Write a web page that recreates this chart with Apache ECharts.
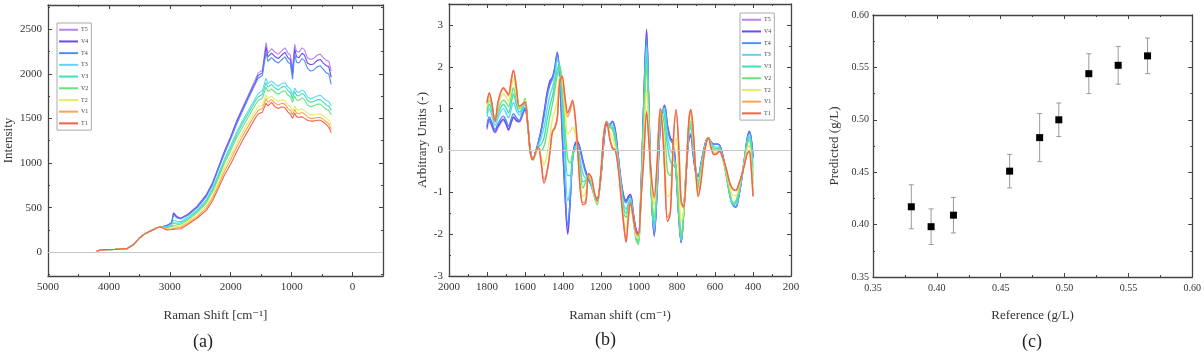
<!DOCTYPE html>
<html lang="en">
<head>
<meta charset="UTF-8">
<title>Raman spectra / prediction</title>
<script src="https://cdn.jsdelivr.net/npm/echarts@6/dist/echarts.min.js"></script>
<style>
    * { margin: 0; padding: 0; }
    html, body { width: 1204px; height: 361px; background: #fff; overflow: hidden; }
    #main { width: 1204px; height: 361px; }
</style>
</head>
<body>
<div id="main"></div>
<script type="text/javascript">
    var names = ['T5', 'V4', 'T4', 'T3', 'V3', 'V2', 'T2', 'V1', 'T1'];
    var colors = ['#b684f2', '#6b4af0', '#4d8ff5', '#5fd6f5', '#3fe0b8', '#6ce27a', '#e3ee62', '#f9a552', '#f2634f'];

    // (a) raw spectra, Raman shift [cm-1]
    var aX = [4200, 4100, 3900, 3700, 3600, 3500, 3400, 3300, 3200, 3150,
        3050, 2970, 2940, 2880, 2820, 2700, 2550, 2400, 2300, 2200,
        2100, 2000, 1900, 1800, 1700, 1600, 1550, 1480, 1420, 1390,
        1330, 1270, 1220, 1160, 1110, 1060, 1020, 985, 950, 920,
        880, 830, 790, 740, 690, 640, 580, 530, 480, 430,
        390, 350];
    var aT5 = [15, 30, 33, 42, 85, 160, 212, 245, 278, 284, 300, 335, 445, 400, 385, 430, 520, 650, 780, 960, 1140, 1300, 1480, 1630, 1780, 1930, 2010, 2040, 2350, 2230, 2280, 2240, 2220, 2260, 2290, 2230, 2210, 2050, 2330, 2250, 2240, 2290, 2270, 2180, 2160, 2170, 2210, 2220, 2180, 2150, 2140, 2030];
    var aV4 = [15, 30, 33, 42, 85, 160, 212, 245, 278, 284, 300, 330, 440, 395, 380, 425, 510, 640, 770, 950, 1130, 1290, 1465, 1610, 1760, 1900, 1980, 2010, 2300, 2190, 2230, 2190, 2170, 2210, 2240, 2180, 2160, 1990, 2280, 2190, 2180, 2230, 2210, 2120, 2100, 2110, 2150, 2160, 2120, 2090, 2080, 1960];
    var aT4 = [15, 30, 33, 42, 85, 160, 212, 245, 278, 284, 295, 325, 420, 385, 375, 415, 500, 625, 755, 935, 1110, 1270, 1440, 1590, 1740, 1880, 1950, 1980, 2240, 2140, 2180, 2140, 2120, 2160, 2190, 2130, 2110, 1940, 2220, 2130, 2120, 2170, 2150, 2060, 2030, 2040, 2080, 2090, 2050, 2010, 2000, 1880];
    var aT3 = [15, 30, 33, 42, 85, 160, 212, 245, 278, 284, 285, 305, 360, 345, 345, 395, 475, 590, 715, 880, 1050, 1200, 1350, 1480, 1600, 1720, 1780, 1810, 1950, 1890, 1920, 1880, 1860, 1890, 1900, 1850, 1830, 1760, 1840, 1800, 1790, 1820, 1800, 1740, 1720, 1730, 1750, 1760, 1730, 1700, 1690, 1640];
    var aV3 = [15, 30, 33, 42, 85, 160, 212, 245, 278, 284, 280, 298, 330, 325, 330, 380, 460, 575, 700, 860, 1030, 1170, 1320, 1450, 1570, 1690, 1740, 1770, 1900, 1850, 1880, 1840, 1820, 1850, 1860, 1810, 1790, 1720, 1800, 1760, 1750, 1780, 1760, 1700, 1680, 1690, 1710, 1710, 1680, 1650, 1640, 1590];
    var aV2 = [15, 30, 33, 42, 85, 160, 212, 245, 278, 284, 275, 290, 310, 310, 315, 365, 445, 555, 675, 835, 1000, 1140, 1290, 1410, 1530, 1650, 1700, 1725, 1850, 1800, 1830, 1790, 1770, 1800, 1810, 1760, 1740, 1680, 1750, 1710, 1700, 1730, 1710, 1650, 1630, 1640, 1660, 1660, 1630, 1600, 1590, 1540];
    var aT2 = [15, 30, 33, 42, 85, 160, 212, 245, 278, 284, 265, 275, 285, 290, 295, 345, 420, 520, 635, 790, 950, 1080, 1220, 1350, 1470, 1580, 1630, 1650, 1760, 1720, 1750, 1710, 1690, 1710, 1700, 1650, 1630, 1580, 1640, 1600, 1590, 1610, 1590, 1560, 1540, 1540, 1550, 1550, 1530, 1500, 1480, 1430];
    var aV1 = [15, 30, 33, 42, 85, 160, 212, 245, 278, 284, 258, 265, 272, 275, 280, 330, 400, 495, 605, 755, 910, 1040, 1180, 1310, 1430, 1540, 1590, 1610, 1720, 1680, 1710, 1670, 1650, 1670, 1660, 1610, 1590, 1540, 1600, 1560, 1550, 1570, 1550, 1520, 1500, 1500, 1510, 1510, 1490, 1460, 1440, 1380];
    var aT1 = [15, 30, 33, 42, 85, 160, 212, 245, 278, 284, 250, 255, 260, 262, 265, 315, 385, 470, 575, 720, 870, 990, 1130, 1260, 1380, 1500, 1550, 1570, 1670, 1640, 1680, 1630, 1610, 1630, 1620, 1570, 1550, 1500, 1560, 1520, 1510, 1520, 1500, 1480, 1470, 1470, 1480, 1480, 1460, 1430, 1400, 1340];

    // (b) preprocessed spectra, arbitrary units
    var bX = [1800, 1788, 1775, 1758, 1740, 1714, 1700, 1687, 1672, 1661,
        1645, 1630, 1615, 1600, 1585, 1572, 1558, 1545, 1530, 1515,
        1500, 1485, 1470, 1456, 1443, 1430, 1418, 1405, 1390, 1375,
        1362, 1350, 1338, 1325, 1310, 1295, 1280, 1265, 1250, 1235,
        1220, 1200, 1185, 1170, 1155, 1140, 1125, 1110, 1095, 1080,
        1068, 1056, 1045, 1030, 1015, 1003, 990, 975, 960, 948,
        935, 920, 905, 888, 875, 865, 850, 835, 820, 805,
        790, 778, 765, 750, 738, 727, 715, 700, 688, 675,
        660, 645, 635, 620, 605, 590, 578, 560, 540, 520,
        505, 490, 475, 460, 445, 432, 420, 410, 400];
    var bT5 = [0.5, 0.7, 0.58, 0.42, 0.56, 0.72, 0.62, 0.48, 0.66, 0.78,
        0.7, 0.68, 0.82, 0.98, 0.58, 0.0, -0.22, -0.06, 0.18, 0.48,
        0.88, 1.3, 1.6, 1.72, 1.95, 2.3, 1.75, 0.45, -1.0, -1.95,
        -1.15, -0.2, 0.12, 0.2, 0.05, -0.25, -0.5, -0.68, -0.85, -1.05,
        -1.15, -0.6, 0.2, 0.6, 0.6, 0.68, 0.48, -0.1, -0.7, -1.1,
        -1.2, -1.1, -1.05, -1.5, -1.9, -2.0, -1.0, 1.15, 2.85, 1.0,
        -1.0, -2.0, -1.0, 0.6, 0.95, 1.05, 0.6, 0.3, 0.2, -0.5,
        -1.6, -2.18, -1.5, -0.4, 0.25, 0.35, -0.1, -0.55, -0.62, -0.35,
        0.0, 0.25, 0.3, 0.2, 0.15, 0.15, 0.14, -0.1, -0.6, -1.1,
        -1.3, -1.35, -1.1, -0.7, -0.2, 0.25, 0.45, 0.3, -0.15];
    var bV4 = [0.55, 0.75, 0.62, 0.45, 0.6, 0.75, 0.65, 0.5, 0.68, 0.8,
        0.72, 0.7, 0.85, 1.0, 0.6, 0.0, -0.22, -0.05, 0.2, 0.5,
        0.9, 1.35, 1.65, 1.75, 2.0, 2.35, 1.8, 0.5, -1.0, -2.0,
        -1.2, -0.2, 0.15, 0.22, 0.05, -0.25, -0.5, -0.7, -0.85, -1.05,
        -1.15, -0.6, 0.2, 0.62, 0.62, 0.7, 0.5, -0.1, -0.7, -1.1,
        -1.2, -1.1, -1.05, -1.5, -1.9, -2.0, -1.0, 1.2, 2.9, 1.0,
        -1.0, -2.05, -1.0, 0.6, 0.95, 1.08, 0.6, 0.3, 0.2, -0.5,
        -1.6, -2.2, -1.5, -0.4, 0.25, 0.35, -0.1, -0.55, -0.62, -0.35,
        0.0, 0.25, 0.3, 0.2, 0.15, 0.15, 0.14, -0.1, -0.6, -1.1,
        -1.3, -1.35, -1.1, -0.7, -0.2, 0.25, 0.46, 0.3, -0.15];
    var bT4 = [0.62, 0.8, 0.68, 0.5, 0.66, 0.82, 0.72, 0.58, 0.76, 0.88,
        0.78, 0.72, 0.88, 1.02, 0.6, 0.0, -0.22, -0.05, 0.18, 0.45,
        0.8, 1.25, 1.55, 1.7, 1.95, 2.3, 1.85, 0.7, -0.8, -1.8,
        -1.15, -0.25, 0.1, 0.18, 0.0, -0.3, -0.55, -0.68, -0.85, -1.05,
        -1.18, -0.6, 0.25, 0.65, 0.62, 0.68, 0.45, -0.15, -0.75, -1.15,
        -1.25, -1.15, -1.1, -1.55, -1.95, -2.05, -1.0, 1.1, 2.75, 1.0,
        -1.0, -2.0, -0.95, 0.65, 0.98, 1.05, 0.55, 0.25, 0.15, -0.55,
        -1.65, -2.2, -1.5, -0.4, 0.28, 0.4, -0.05, -0.5, -0.6, -0.35,
        0.0, 0.26, 0.3, 0.2, 0.15, 0.15, 0.14, -0.1, -0.6, -1.12,
        -1.32, -1.35, -1.1, -0.7, -0.2, 0.2, 0.44, 0.28, -0.2];
    var bT3 = [0.8, 1.0, 0.85, 0.6, 0.8, 1.0, 0.9, 0.78, 1.0, 1.15,
        0.95, 0.85, 0.95, 1.12, 0.6, -0.02, -0.22, -0.07, 0.12, 0.3,
        0.55, 0.95, 1.3, 1.5, 1.75, 2.15, 2.0, 1.1, -0.2, -1.2,
        -0.9, -0.2, 0.05, 0.1, -0.2, -0.55, -0.65, -0.62, -0.82, -1.08,
        -1.22, -0.55, 0.3, 0.68, 0.6, 0.6, 0.35, -0.2, -0.8, -1.3,
        -1.4, -1.25, -1.15, -1.6, -2.05, -2.15, -1.1, 0.9, 2.5, 0.9,
        -1.0, -1.9, -0.85, 0.75, 1.0, 0.95, 0.35, 0.0, -0.1, -0.5,
        -1.55, -2.15, -1.5, -0.35, 0.4, 0.55, 0.05, -0.5, -0.75, -0.4,
        -0.05, 0.24, 0.3, 0.18, 0.1, 0.08, 0.08, -0.15, -0.6, -1.1,
        -1.3, -1.3, -1.05, -0.68, -0.22, 0.18, 0.38, 0.18, -0.4];
    var bV3 = [0.88, 1.1, 0.95, 0.68, 0.9, 1.1, 1.02, 0.9, 1.15, 1.35,
        1.08, 0.92, 1.0, 1.2, 0.6, -0.03, -0.22, -0.08, 0.08, 0.15,
        0.3, 0.7, 1.05, 1.3, 1.6, 1.95, 2.05, 1.4, 0.2, -0.6,
        -0.6, -0.15, 0.02, 0.05, -0.35, -0.75, -0.7, -0.6, -0.8, -1.1,
        -1.25, -0.52, 0.35, 0.7, 0.58, 0.55, 0.28, -0.25, -0.85, -1.4,
        -1.5, -1.3, -1.2, -1.65, -2.1, -2.2, -1.15, 0.75, 2.25, 0.75,
        -1.0, -1.75, -0.7, 0.85, 0.95, 0.8, 0.1, -0.25, -0.35, -0.45,
        -1.45, -2.1, -1.5, -0.32, 0.45, 0.62, 0.12, -0.5, -0.82, -0.45,
        -0.08, 0.23, 0.3, 0.16, 0.05, 0.04, 0.05, -0.17, -0.6, -1.08,
        -1.28, -1.25, -1.0, -0.64, -0.24, 0.14, 0.32, 0.1, -0.6];
    var bV2 = [0.95, 1.2, 1.05, 0.75, 1.0, 1.2, 1.15, 1.05, 1.3, 1.5,
        1.2, 1.0, 1.05, 1.25, 0.6, -0.05, -0.22, -0.1, 0.05, 0.0,
        0.1, 0.4, 0.8, 1.1, 1.45, 1.8, 2.0, 1.6, 0.6, -0.2,
        -0.3, -0.1, 0.0, 0.0, -0.5, -0.9, -0.75, -0.6, -0.8, -1.1,
        -1.3, -0.5, 0.4, 0.7, 0.55, 0.5, 0.2, -0.3, -0.9, -1.5,
        -1.6, -1.4, -1.3, -1.7, -2.15, -2.25, -1.2, 0.6, 2.0, 0.6,
        -1.0, -1.6, -0.6, 0.9, 0.85, 0.5, -0.5, -0.6, -0.2, -0.4,
        -1.4, -2.05, -1.5, -0.3, 0.5, 0.7, 0.2, -0.5, -0.9, -0.5,
        -0.1, 0.22, 0.3, 0.15, 0.0, 0.0, 0.02, -0.2, -0.6, -1.05,
        -1.25, -1.2, -0.95, -0.6, -0.25, 0.1, 0.25, 0.0, -0.8];
    var bT2 = [1.05, 1.28, 1.1, 0.72, 1.1, 1.35, 1.28, 1.18, 1.5, 1.72,
        1.35, 1.03, 1.08, 1.2, 0.6, -0.05, -0.22, -0.08, 0.06, -0.15,
        -0.35, -0.1, 0.3, 0.75, 0.95, 1.2, 1.75, 1.7, 1.0, 0.4,
        0.45, 0.55, 0.45, 0.1, -0.7, -1.1, -1.0, -0.58, -0.72, -1.05,
        -1.25, -0.5, 0.4, 0.69, 0.45, 0.3, 0.1, -0.35, -1.0, -1.65,
        -1.9, -1.5, -1.28, -1.65, -2.05, -2.1, -1.2, 0.2, 1.45, 0.4,
        -0.8, -1.3, -0.45, 0.95, 0.6, 0.0, -1.1, -1.05, -0.1, 0.3,
        -0.7, -1.7, -1.45, -0.35, 0.6, 0.85, 0.35, -0.55, -1.0, -0.65,
        -0.15, 0.21, 0.3, 0.1, -0.05, -0.04, 0.0, -0.18, -0.52, -0.92,
        -1.08, -1.08, -0.88, -0.6, -0.3, 0.02, 0.12, -0.2, -0.95];
    var bV1 = [1.12, 1.35, 1.14, 0.7, 1.18, 1.48, 1.4, 1.3, 1.68, 1.92,
        1.48, 1.05, 1.1, 1.18, 0.6, -0.05, -0.22, -0.06, 0.08, -0.25,
        -0.7, -0.5, -0.08, 0.42, 0.52, 0.75, 1.6, 1.78, 1.25, 0.8,
        0.95, 1.15, 0.85, 0.2, -0.85, -1.25, -1.2, -0.55, -0.66, -1.0,
        -1.22, -0.5, 0.4, 0.68, 0.32, 0.08, 0.02, -0.38, -1.08, -1.78,
        -2.15, -1.6, -1.25, -1.6, -1.98, -2.02, -1.2, -0.1, 0.95, 0.25,
        -0.65, -1.15, -0.35, 1.0, 0.45, -0.4, -1.6, -1.45, 0.15, 0.95,
        0.05, -1.25, -1.38, -0.4, 0.68, 0.95, 0.48, -0.58, -1.08, -0.78,
        -0.2, 0.2, 0.3, 0.06, -0.09, -0.07, -0.02, -0.16, -0.46, -0.82,
        -0.94, -0.96, -0.82, -0.6, -0.34, -0.08, -0.02, -0.38, -1.08];
    var bT1 = [1.15, 1.38, 1.15, 0.7, 1.2, 1.5, 1.42, 1.34, 1.7, 1.92,
        1.5, 1.05, 1.1, 1.15, 0.6, -0.05, -0.22, -0.05, 0.08, -0.3,
        -0.78, -0.55, -0.1, 0.45, 0.55, 0.8, 1.6, 1.78, 1.3, 0.9,
        1.05, 1.2, 0.9, 0.2, -0.9, -1.3, -1.25, -0.55, -0.65, -1.0,
        -1.2, -0.5, 0.4, 0.68, 0.3, 0.05, 0.0, -0.4, -1.1, -1.8,
        -2.2, -1.6, -1.25, -1.6, -1.95, -2.0, -1.2, -0.2, 0.9, 0.2,
        -0.6, -1.1, -0.3, 1.0, 0.4, -0.5, -1.7, -1.5, 0.2, 0.98,
        0.0, -1.2, -1.35, -0.4, 0.7, 0.98, 0.5, -0.6, -1.1, -0.8,
        -0.2, 0.2, 0.3, 0.05, -0.1, -0.08, -0.02, -0.15, -0.45, -0.8,
        -0.92, -0.95, -0.8, -0.6, -0.35, -0.1, -0.02, -0.4, -1.1];

    // (c) reference vs predicted concentration (g/L)
    var refConc = [0.380, 0.3955, 0.413, 0.457, 0.4805, 0.4955, 0.519, 0.542, 0.565];
    var predConc = [0.417, 0.398, 0.409, 0.451, 0.483, 0.500, 0.544, 0.552, 0.561];
    var predErr = [0.021, 0.017, 0.017, 0.016, 0.023, 0.016, 0.019, 0.018, 0.017];

    var aSets = [aT5, aV4, aT4, aT3, aV3, aV2, aT2, aV1, aT1];
    var bSets = [bT5, bV4, bT4, bT3, bV3, bV2, bT2, bV1, bT1];

    var font = "'Liberation Serif', 'DejaVu Serif', serif";
    var axisColor = '#444';

    function pairs(xs, ys) {
        var out = [];
        var n = Math.min(xs.length, ys.length);
        for (var i = 0; i < n; i++) out.push([xs[i], ys[i]]);
        return out;
    }

    function axis(grid, pos, conf) {
        var main = (pos === 'bottom' || pos === 'left');
        var o = {
            type: 'value',
            gridIndex: grid,
            position: pos,
            axisLine: {show: true, onZero: false, lineStyle: {color: axisColor, width: 1.3}},
            axisTick: {show: true, inside: true, length: 4, lineStyle: {color: axisColor}},
            minorTick: {show: true, splitNumber: 2, length: 2, lineStyle: {color: axisColor}},
            splitLine: {show: false},
            axisLabel: {show: main, color: '#333', fontFamily: font, fontSize: 11, margin: 6},
            nameTextStyle: {color: '#333', fontFamily: font, fontSize: 13}
        };
        for (var k in conf) {
            if (k === 'axisLabel') {
                for (var j in conf[k]) o.axisLabel[j] = conf[k][j];
            } else if (main || k !== 'name') {
                o[k] = conf[k];
            }
        }
        return o;
    }

    var aXConf = {min: -500, max: 5000, inverse: true,
        name: 'Raman Shift [cm\u207B\u00B9]', nameLocation: 'middle', nameGap: 33,
        axisLabel: {formatter: function (v) { return v % 1000 === 0 ? String(v) : ''; }}};
    var aYConf = {min: -265, max: 2770,
        name: 'Intensity', nameLocation: 'middle', nameGap: 33,
        axisLabel: {formatter: function (v) { return v % 500 === 0 ? String(v) : ''; }}};
    var bXConf = {min: 200, max: 2000, interval: 200, inverse: true,
        name: 'Raman shift (cm\u207B\u00B9)', nameLocation: 'middle', nameGap: 33,
        axisLabel: {formatter: function (v) { return String(v); }}};
    var bYConf = {min: -3, max: 3.5, interval: 1,
        name: 'Arbitrary Units (-)', nameLocation: 'middle', nameGap: 20,
        axisLabel: {formatter: function (v) { return Math.round(v) === v ? String(v) : ''; }}};
    var cXConf = {min: 0.35, max: 0.6, interval: 0.05,
        name: 'Reference (g/L)', nameLocation: 'middle', nameGap: 32,
        axisLabel: {fontSize: 10, formatter: function (v) { return v.toFixed(2); }}};
    var cYConf = {min: 0.35, max: 0.6, interval: 0.05,
        name: 'Predicted (g/L)', nameLocation: 'middle', nameGap: 32,
        axisLabel: {fontSize: 10, margin: 4, formatter: function (v) { return v.toFixed(2); }}};

    var zeroLine = {
        silent: true, symbol: 'none', label: {show: false},
        lineStyle: {color: '#c8c8c8', type: 'solid', width: 1},
        data: [{yAxis: 0}]
    };

    var series = [];
    for (var i = 0; i < names.length; i++) {
        series.push({
            name: names[i], type: 'line', xAxisIndex: 0, yAxisIndex: 0,
            symbol: 'none', color: colors[i], lineStyle: {width: 1.1},
            data: pairs(aX, aSets[i]),
            markLine: i === 0 ? zeroLine : undefined
        });
    }
    for (var i = 0; i < names.length; i++) {
        series.push({
            name: names[i], type: 'line', xAxisIndex: 2, yAxisIndex: 2,
            symbol: 'none', smooth: 0.35, color: colors[i], lineStyle: {width: 1.4},
            data: pairs(bX, bSets[i]),
            markLine: i === 0 ? zeroLine : undefined
        });
    }

    var errData = [];
    for (var i = 0; i < refConc.length; i++) {
        errData.push([refConc[i], predConc[i] - predErr[i], predConc[i] + predErr[i]]);
    }
    series.push({
        type: 'custom', xAxisIndex: 4, yAxisIndex: 4, z: 2,
        encode: {x: 0, y: [1, 2]},
        data: errData,
        renderItem: function (params, api) {
            var x = api.value(0);
            var lo = api.coord([x, api.value(1)]);
            var hi = api.coord([x, api.value(2)]);
            var w = 2.5;
            var st = {stroke: '#9a9a9a', lineWidth: 1};
            return {
                type: 'group',
                children: [
                    {type: 'line', shape: {x1: hi[0], y1: hi[1], x2: lo[0], y2: lo[1]}, style: st},
                    {type: 'line', shape: {x1: hi[0] - w, y1: hi[1], x2: hi[0] + w, y2: hi[1]}, style: st},
                    {type: 'line', shape: {x1: lo[0] - w, y1: lo[1], x2: lo[0] + w, y2: lo[1]}, style: st}
                ]
            };
        }
    });
    series.push({
        type: 'scatter', xAxisIndex: 4, yAxisIndex: 4, z: 3,
        symbol: 'rect', symbolSize: 7, itemStyle: {color: '#000', opacity: 1},
        data: pairs(refConc, predConc)
    });

    var legendBase = {
        data: names, orient: 'vertical', icon: 'rect',
        itemWidth: 19, itemHeight: 2, itemGap: 4.2,
        padding: [3, 3, 3, 2], borderColor: '#aaa', borderWidth: 1,
        textStyle: {fontSize: 6, lineHeight: 7.5, color: '#444', fontFamily: font, padding: [0, 0, 0, -2]},
        selectedMode: false
    };
    var legendA = Object.assign({}, legendBase, {left: 57, top: 23});
    var legendB = Object.assign({}, legendBase, {left: 740, top: 13});

    var myChart = echarts.init(document.getElementById('main'));
    var option = {
        animation: false,
        backgroundColor: '#fff',
        grid: [
            {left: 48, top: 5, width: 335, height: 271},
            {left: 449, top: 4, width: 342, height: 272},
            {left: 873, top: 15, width: 327, height: 262}
        ],
        xAxis: [
            axis(0, 'bottom', aXConf), axis(0, 'top', aXConf),
            axis(1, 'bottom', bXConf), axis(1, 'top', bXConf),
            axis(2, 'bottom', cXConf), axis(2, 'top', cXConf)
        ],
        yAxis: [
            axis(0, 'left', aYConf), axis(0, 'right', aYConf),
            axis(1, 'left', bYConf), axis(1, 'right', bYConf),
            axis(2, 'left', cYConf), axis(2, 'right', cYConf)
        ],
        legend: [legendA, legendB],
        graphic: [
            {type: 'text', left: 193, top: 333, style: {text: '(a)', font: '18px ' + font, fill: '#222'}},
            {type: 'text', left: 595, top: 331, style: {text: '(b)', font: '18px ' + font, fill: '#222'}},
            {type: 'text', left: 1022, top: 333, style: {text: '(c)', font: '18px ' + font, fill: '#222'}}
        ],
        series: series
    };
    myChart.setOption(option);
</script>
</body>
</html>
